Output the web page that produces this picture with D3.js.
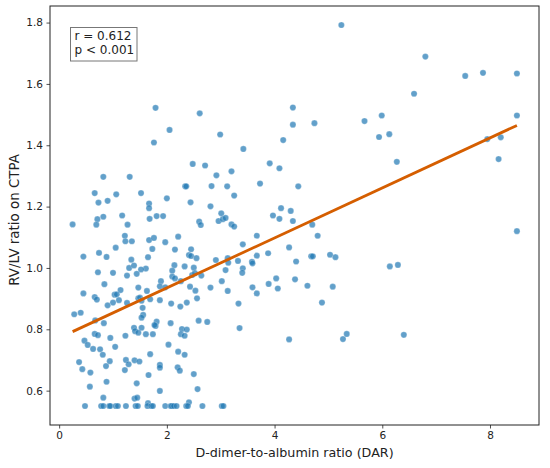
<!DOCTYPE html>
<html lang="en">
    <head>
        <meta charset="utf-8">
        <title>DAR vs RV/LV ratio</title>
        <script src="https://d3js.org/d3.v7.min.js"></script>
        <style type="text/css">
            body { margin: 0; background: #fff; }
            text { font-family: "DejaVu Sans", sans-serif; fill: #222; }
        </style>
    </head>
    <body>
        <script type="text/javascript">

            const svgW = 550;
            const svgH = 468;
            const plotL = 50, plotR = 539, plotT = 6, plotB = 425;

            // D-dimer-to-albumin ratio (x) and RV/LV ratio (y)
            const dar = [
                0.25, 1.79, 2.61, 2.05, 1.76, 2.99, 3.42, 2.48, 2.71, 3.91, 0.82, 1.31, 2.92, 3.20,
                0.66, 1.06, 1.52, 2.34, 2.36, 2.83, 3.12, 3.73, 0.73, 0.90, 1.67, 2.00, 2.44, 3.25,
                1.67, 2.81, 0.71, 0.82, 1.17, 1.68, 1.81, 1.93, 3.01, 2.96, 3.04, 3.09, 2.60, 2.63,
                3.20, 3.25, 0.69, 1.27, 3.97,
                5.24, 6.80, 7.54, 7.87, 8.50, 6.59, 4.34, 4.34, 4.74, 5.67, 5.99, 8.50, 4.16, 5.94,
                6.13, 7.95, 8.20, 8.16, 6.27, 4.09, 4.44, 4.12, 4.30, 4.09, 4.34, 4.70, 8.50, 4.80,
                4.27, 4.40, 4.68, 4.71, 5.03, 5.13, 6.14, 6.29, 4.03, 4.06, 4.38, 4.61, 5.08, 4.88,
                4.27, 5.27, 5.34, 6.40,
                1.22, 1.23, 1.35, 1.67, 1.76, 1.97, 2.21, 3.67, 1.05, 1.73, 2.15, 2.45, 2.41, 2.45,
                3.41, 0.45, 0.74, 0.88, 1.65, 2.55, 3.13, 3.14, 3.32, 3.58, 3.59, 3.67, 3.88, 1.34,
                1.30, 1.39, 1.61, 1.52, 2.14, 2.10, 2.50, 2.33, 2.91, 1.00, 0.72, 1.26, 1.44, 2.10,
                2.15, 2.47, 2.52, 3.09, 3.41, 3.40, 3.02, 3.89, 1.89, 2.26, 2.64, 1.47, 1.87, 1.97,
                2.43, 2.81, 3.59, 3.67, 0.45, 1.14, 1.63, 2.53, 3.13, 0.66, 0.70, 1.03, 1.07, 1.11,
                1.47, 1.50, 1.53, 1.69, 1.87, 2.56, 3.33, 1.26, 1.00, 0.84, 2.08, 2.37, 0.90, 1.55,
                2.25, 1.56, 0.28, 0.40, 1.53, 0.67, 0.83, 1.81, 1.79, 1.77, 2.07, 2.59, 2.75, 3.35,
                1.39, 1.53, 2.28, 2.37, 1.41, 1.47, 1.61, 1.74, 2.26, 2.33, 1.23, 0.66, 0.72, 0.95,
                0.47, 0.53, 0.63, 0.76, 1.04, 2.03, 2.21, 2.33, 0.81, 1.69, 0.37, 0.94, 1.24, 1.29,
                1.40, 1.49, 0.87, 1.87, 1.87, 2.20, 2.24, 0.43, 0.58, 1.22, 2.50, 1.66, 1.44, 0.88,
                0.57, 2.57, 1.87, 0.82, 1.40, 1.45, 1.65, 2.41,
                0.48, 0.78, 0.82, 0.93, 0.95, 1.05, 1.09, 1.24, 1.42, 1.46, 1.64, 1.71, 1.74, 1.97,
                2.07, 2.09, 2.13, 2.18, 2.36, 2.39, 2.66, 3.02, 3.05
            ];
            const rvlv = [
                1.142, 1.522, 1.504, 1.450, 1.409, 1.435, 1.388, 1.339, 1.334, 1.341, 1.297, 1.297, 1.302, 1.315,
                1.244, 1.240, 1.244, 1.266, 1.266, 1.267, 1.266, 1.275, 1.213, 1.219, 1.210, 1.227, 1.214, 1.236,
                1.195, 1.201, 1.159, 1.167, 1.171, 1.160, 1.169, 1.169, 1.178, 1.153, 1.159, 1.163, 1.151, 1.140,
                1.142, 1.135, 1.141, 1.141, 1.171,
                1.792, 1.689, 1.626, 1.636, 1.634, 1.568, 1.523, 1.467, 1.472, 1.479, 1.497, 1.497, 1.417, 1.427,
                1.436, 1.420, 1.426, 1.355, 1.346, 1.325, 1.266, 1.195, 1.186, 1.160, 1.153, 1.141, 1.120, 1.105,
                1.067, 1.021, 1.038, 1.038, 1.043, 1.035, 1.005, 1.010, 0.966, 0.933, 0.963, 0.942, 0.939, 0.887,
                0.767, 0.768, 0.785, 0.782,
                1.105, 1.087, 1.087, 1.091, 1.098, 1.084, 1.102, 1.105, 1.066, 1.062, 1.060, 1.061, 1.042, 1.039,
                1.077, 1.037, 1.049, 1.036, 1.035, 1.032, 1.032, 1.017, 1.023, 1.020, 1.015, 1.040, 1.048, 1.027,
                1.000, 1.008, 0.998, 0.995, 1.009, 0.991, 1.001, 1.005, 1.026, 0.984, 0.986, 0.975, 0.981, 0.972,
                0.966, 0.977, 0.983, 0.993, 0.999, 0.984, 0.957, 0.948, 0.957, 0.957, 0.975, 0.936, 0.940, 0.937,
                0.939, 0.936, 0.937, 0.917, 0.917, 0.928, 0.925, 0.926, 0.925, 0.905, 0.897, 0.913, 0.914, 0.895,
                0.901, 0.903, 0.893, 0.898, 0.895, 0.901, 0.884, 0.886, 0.887, 0.947, 0.884, 0.887, 0.878, 0.870,
                0.874, 0.847, 0.849, 0.854, 0.838, 0.829, 0.820, 0.825, 0.811, 0.814, 0.820, 0.828, 0.824, 0.804,
                0.805, 0.805, 0.801, 0.799, 0.794, 0.789, 0.784, 0.784, 0.784, 0.779, 0.779, 0.785, 0.781, 0.772,
                0.763, 0.749, 0.736, 0.735, 0.743, 0.750, 0.727, 0.717, 0.717, 0.719, 0.693, 0.696, 0.700, 0.686,
                0.699, 0.695, 0.680, 0.684, 0.675, 0.676, 0.665, 0.670, 0.659, 0.667, 0.654, 0.651, 0.624, 0.629,
                0.613, 0.605, 0.599, 0.577, 0.574, 0.577, 0.559, 0.562,
                0.55, 0.55, 0.55, 0.55, 0.55, 0.55, 0.55, 0.55, 0.55, 0.55, 0.55, 0.55, 0.55, 0.55,
                0.55, 0.55, 0.55, 0.55, 0.55, 0.55, 0.55, 0.55, 0.55
            ];

            // fitted line y = intercept + slope * x
            const fitSlope = 0.0815;
            const fitIntercept = 0.772;

            const xTicks = [0, 2, 4, 6, 8];
            const yTicks = [0.6, 0.8, 1.0, 1.2, 1.4, 1.6, 1.8];
            const statLines = ["r = 0.612", "p < 0.001"];

            const points = dar.map((d, i) => [d, rvlv[i]]);

            const xScale = d3.scaleLinear()
                             .domain([-0.17, 8.91])
                             .range([plotL, plotR]);

            const yScale = d3.scaleLinear()
                             .domain([0.488, 1.854])
                             .range([plotB, plotT]);

            const svg = d3.select("body")
                    .append("svg")
                    .attr("width", svgW)
                    .attr("height", svgH);

            const bottomAxis = d3.axisBottom(xScale)
                                 .tickValues(xTicks)
                                 .tickFormat(d3.format("d"))
                                 .tickSizeInner(3.5)
                                 .tickSizeOuter(0)
                                 .tickPadding(3.5);

            const leftAxis = d3.axisLeft(yScale)
                               .tickValues(yTicks)
                               .tickFormat(d3.format(".1f"))
                               .tickSizeInner(3.5)
                               .tickSizeOuter(0)
                               .tickPadding(3.5);

            const gx = svg.append("g")
                .attr("transform", "translate(0," + plotB + ")")
                .call(bottomAxis);

            const gy = svg.append("g")
                .attr("transform", "translate(" + plotL + ",0)")
                .call(leftAxis);

            [gx, gy].forEach(g => {
                g.select(".domain").remove();
                g.selectAll(".tick line").attr("stroke", "#222").attr("stroke-width", 0.8);
                g.selectAll(".tick text")
                 .style("font-family", "'DejaVu Sans', sans-serif")
                 .style("font-size", "10.5px")
                 .attr("fill", "#222");
            });

            svg.selectAll("circle")
               .data(points)
               .enter()
               .append("circle")
               .attr("cx", d => xScale(d[0]))
               .attr("cy", d => yScale(d[1]))
               .attr("r", 3.1)
               .attr("fill", "#1f77b4")
               .attr("fill-opacity", 0.7)
               .attr("stroke", "#fff")
               .attr("stroke-width", 0.4)
               .attr("stroke-opacity", 0.6);

            const xExt = d3.extent(dar);
            const fit = xExt.map(x => [x, fitIntercept + fitSlope * x]);

            svg.append("path")
               .datum(fit)
               .attr("d", d3.line().x(d => xScale(d[0])).y(d => yScale(d[1])))
               .attr("stroke", "#d55e00")
               .attr("stroke-width", 2.8)
               .attr("fill", "none");

            // frame
            svg.append("rect")
               .attr("x", plotL)
               .attr("y", plotT)
               .attr("width", plotR - plotL)
               .attr("height", plotB - plotT)
               .attr("fill", "none")
               .attr("stroke", "#222")
               .attr("stroke-width", 1);

            // stats box
            svg.append("rect")
               .attr("x", 70.5)
               .attr("y", 27.5)
               .attr("width", 66.5)
               .attr("height", 33.5)
               .attr("fill", "#fff")
               .attr("stroke", "#777")
               .attr("stroke-width", 1);

            svg.append("g")
               .selectAll("text")
               .data(statLines)
               .enter()
               .append("text")
               .attr("x", 74.5)
               .attr("y", (d, i) => 40 + i * 14)
               .style("font-size", "12px")
               .text(d => d);

            svg.append("text")
               .attr("x", (plotL + plotR) / 2)
               .attr("y", 457)
               .attr("text-anchor", "middle")
               .style("font-size", "12.7px")
               .text("D-dimer-to-albumin ratio (DAR)");

            svg.append("text")
               .attr("transform", "translate(18.5,220) rotate(-90)")
               .attr("text-anchor", "middle")
               .style("font-size", "13.4px")
               .text("RV/LV ratio on CTPA");

        </script>
    </body>
</html>
